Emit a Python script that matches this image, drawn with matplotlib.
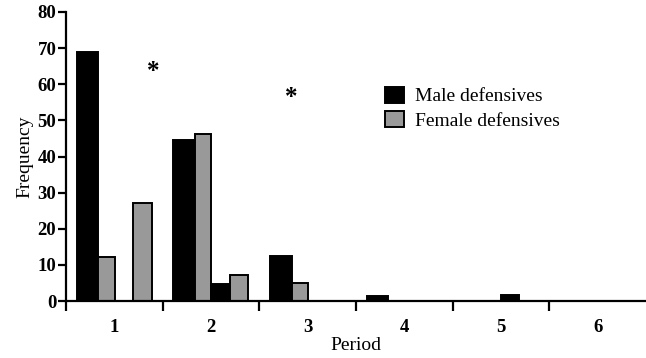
import matplotlib
matplotlib.use("Agg")
import matplotlib.pyplot as plt
import numpy as np

periods = [1, 2, 3, 4, 5, 6]
period_labels = ["1", "2", "3", "4", "5", "6"]
# two sub-bins per period, male and female each
male_a = [69, 44.6, 12.5, 1.3, 0, 0]
female_a = [12.3, 46.1, 5.1, 0, 0, 0]
male_b = [0, 4.7, 0, 0, 1.6, 0]
female_b = [27.2, 7.2, 0, 0, 0, 0]
star_x = [1.40, 2.83]
star_y = [63.6, 56.4]
yticks = [0, 10, 20, 30, 40, 50, 60, 70, 80]

plt.rcParams['font.family'] = ['Liberation Serif', 'DejaVu Serif']

fig = plt.figure(figsize=(6.46, 3.58), dpi=100)
ax = fig.add_axes([66/646, 1-301/358, 580/646, 289/358])

x = np.array(periods, dtype=float)
ew = 1.4
ax.bar(x - 0.2775, male_a, width=0.225, color='black', edgecolor='black', linewidth=ew, label='Male defensives')
ax.bar(x - 0.08, female_a, width=0.17, color='#999999', edgecolor='black', linewidth=ew, label='Female defensives')
ax.bar(x + 0.095, male_b, width=0.19, color='black', edgecolor='black', linewidth=ew)
ax.bar(x + 0.29, female_b, width=0.19, color='#999999', edgecolor='black', linewidth=ew)

for sx, sy in zip(star_x, star_y):
    ax.text(sx, sy, '*', ha='center', va='center', fontsize=18, fontweight='bold')

ax.set_xlim(0.5, 6.5)
ax.set_ylim(0, 80)
ax.spines['top'].set_visible(False)
ax.spines['right'].set_visible(False)
for s in ['left', 'bottom']:
    ax.spines[s].set_linewidth(1.6)
ax.spines['bottom'].set_zorder(5)

ax.set_xticks(periods)
ax.set_xticklabels(period_labels, fontsize=13.5, fontweight='bold')
ax.set_xticks(np.arange(0.5, 6.0, 1.0), minor=True)
ax.tick_params(axis='x', which='major', length=0, pad=13)
ax.tick_params(axis='x', which='minor', length=7, width=1.6, direction='out')
ax.set_yticks(yticks)
ax.set_yticklabels([str(v) for v in yticks], fontsize=13.5, fontweight='bold')
ax.tick_params(axis='y', length=6, width=1.6, pad=1)

ax.set_xlabel('Period', fontsize=14, labelpad=1)
ax.set_ylabel('Frequency', fontsize=14, labelpad=3)

leg = ax.legend(loc='upper left', bbox_to_anchor=((385-66)/580, (301-87)/289),
                frameon=False, fontsize=14, handlelength=1.0, handleheight=0.85,
                handletextpad=0.55, labelspacing=0.3, borderpad=0, borderaxespad=0)

fig.savefig('out.png', dpi=100)
